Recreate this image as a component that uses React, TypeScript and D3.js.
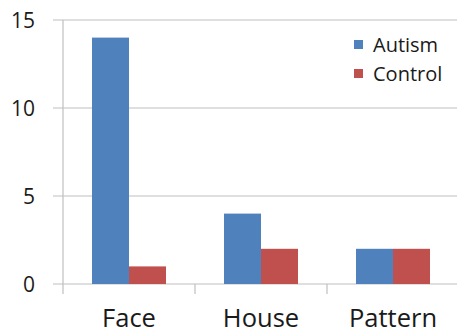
import React from "react";
import * as d3 from "d3";

const categories = ["Face", "House", "Pattern"];
const seriesNames = ["Autism", "Control"];
const autism = [14, 4, 2];
const control = [1, 2, 2];
const yTicks = [0, 5, 10, 15];
const colors = ["#4F81BD", "#C0504D"];

export default function App() {
  const W = 457, H = 335;
  const left = 63, right = 459, top = 20, bottom = 284;
  const x = d3.scaleBand<string>().domain(categories).range([left, right]).paddingInner(0).paddingOuter(0);
  const y = d3.scaleLinear().domain([0, 15]).range([bottom, top]);
  const barW = 37;
  const series = [autism, control];
  const font = "'Open Sans', sans-serif";
  return (
    <svg width={W} height={H} style={{ position: "absolute", left: 0, top: 0, background: "#fff" }}>
      {yTicks.map((t) => (
        <g key={t}>
          <line x1={53} x2={W} y1={y(t)} y2={y(t)} stroke="#BFBFBF" strokeWidth={1.2} />
          <text x={35} y={y(t)} dy="0.36em" textAnchor="end" fontSize={21} fontFamily={font} fill="#1a1a1a">{t}</text>
        </g>
      ))}
      <line x1={left} x2={left} y1={top} y2={bottom + 10} stroke="#BFBFBF" strokeWidth={1.2} />
      {categories.map((c) => (
        <line key={c} x1={(x(c) as number) + x.bandwidth()} x2={(x(c) as number) + x.bandwidth()} y1={bottom} y2={bottom + 10} stroke="#BFBFBF" strokeWidth={1.2} />
      ))}
      {categories.map((c, i) => {
        const cx = (x(c) as number) + x.bandwidth() / 2;
        return (
          <g key={c}>
            {series.map((s, j) => (
              <rect key={j} x={cx - barW + j * barW} y={y(s[i])} width={barW} height={bottom - y(s[i])} fill={colors[j]} />
            ))}
            <text x={cx} y={327} textAnchor="middle" fontSize={25.5} fontFamily={font} fill="#1a1a1a">{c}</text>
          </g>
        );
      })}
      {seriesNames.map((n, j) => (
        <g key={n}>
          <rect x={354} y={40 + j * 29} width={9} height={9} fill={colors[j]} />
          <text x={373} y={44.5 + j * 29} dy="0.36em" fontSize={20} fontFamily={font} fill="#1a1a1a">{n}</text>
        </g>
      ))}
    </svg>
  );
}
